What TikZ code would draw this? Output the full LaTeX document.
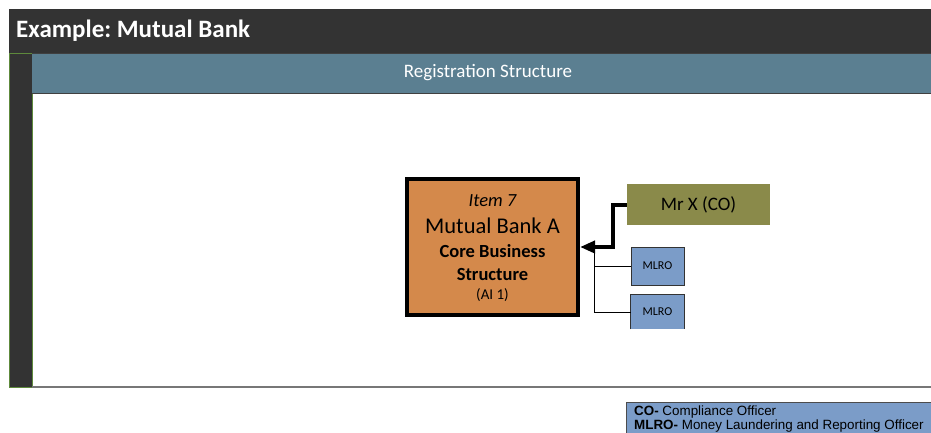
\documentclass[tikz,border=0pt]{standalone}
\usepackage{fontspec}
\setmainfont{Carlito}
\newfontfamily\arialf{Liberation Sans}
\usetikzlibrary{arrows.meta}
\frenchspacing
\definecolor{titlebar}{HTML}{333333}
\definecolor{headblue}{HTML}{5B7F91}
\definecolor{bankorange}{HTML}{D4894B}
\definecolor{olivebox}{HTML}{8A8A4A}
\definecolor{mlroblue}{HTML}{7B9CC8}
\definecolor{edgegray}{HTML}{777777}
\definecolor{bargreen}{HTML}{5E8A3C}
\tikzset{
  mlrobox/.style={fill=mlroblue, draw=black!80, line width=0.8pt, minimum width=53pt, minimum height=38pt, inner sep=0pt, font=\fontsize{12}{14}\selectfont},
  banktext/.style={inner sep=0pt},
  thinlink/.style={draw=black, line width=1pt},
  thicklink/.style={draw=black, line width=4pt, -{Triangle[length=15pt,width=12pt]}},
}
\begin{document}
\begin{tikzpicture}[x=1pt,y=-1pt]
\useasboundingbox (0,0) rectangle (931,432);
\clip (0,0) rectangle (931,432);
\fill[white] (0,0) rectangle (931,432);
% frame
\fill[titlebar] (9,9) rectangle (935,53);
\node[anchor=west, inner sep=0pt, text=white, font=\fontsize{25}{28}\selectfont\bfseries] (title) at (16,31) {Example: Mutual Bank};
\fill[titlebar] (9,53) rectangle (32,387);
\draw[bargreen, line width=0.6pt] (9,53) rectangle (32,387);
\fill[headblue] (32,53) rectangle (935,93);
\draw[black!75, line width=1pt] (32,53.5) -- (935,53.5);
\draw[black!75, line width=1pt] (32,93) -- (935,93);
\node[text=white, font=\fontsize{19}{22}\selectfont, inner sep=0pt] (head) at (488,73) {Registration Structure};
\draw[edgegray, line width=1.2pt] (32,387) -- (935,387);
% bank
\node[fill=bankorange, draw=black, line width=4pt, minimum width=171pt, minimum height=136pt, inner sep=0pt] (bank) at (492.5,247) {};
\node[banktext, font=\fontsize{18.5}{20}\selectfont\itshape] (b1) at ([yshift=46pt]bank.center) {Item 7};
\node[banktext, font=\fontsize{22.5}{24}\selectfont] (b2) at ([yshift=21pt]bank.center) {Mutual Bank A};
\node[banktext, font=\fontsize{18.5}{20}\selectfont\bfseries] (b3) at ([yshift=-4pt]bank.center) {Core Business};
\node[banktext, font=\fontsize{18.5}{20}\selectfont\bfseries] (b4) at ([yshift=-27pt]bank.center) {Structure};
\node[banktext, font=\fontsize{15}{17}\selectfont] (b5) at ([yshift=-48pt]bank.center) {(AI 1)};
% Mr X
\node[fill=olivebox, minimum width=143pt, minimum height=41pt, inner sep=0pt, font=\fontsize{19}{22}\selectfont] (mrx) at (698.5,204.5) {Mr X (CO)};
% MLRO
\node[mlrobox] (m1) at (657.5,266) {MLRO};
\node[mlrobox, draw=none, minimum height=34pt] (m2) at (657.5,312) {MLRO};
\draw[black!80, line width=0.8pt] (m2.south west) -- (m2.north west) -- (m2.north east) -- (m2.south east);
% connectors
\coordinate (jn) at (594,249);
\draw[thinlink] (m1.west) -| (jn);
\draw[thinlink] (m2.west) -| (jn);
\draw[thicklink] (mrx.west) -- ++(-14,0) |- (bank.east);
% legend
\fill[mlroblue] (626,402) rectangle (935,436);
\draw[black!70, line width=0.8pt] (626,436) -- (626,402) -- (935,402);
\node[anchor=north west, inner sep=0pt, align=left, font=\arialf\fontsize{13.4}{13.5}\selectfont] (legend) at (634,406)
  {\textbf{CO-} Compliance Officer\\\textbf{MLRO-} Money Laundering and Reporting Officer};
\end{tikzpicture}
\end{document}
